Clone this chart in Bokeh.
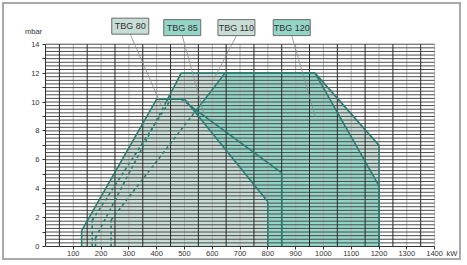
import numpy as np
from bokeh.plotting import figure
from bokeh.models import Range1d, FixedTicker
from bokeh.embed import file_html
from bokeh.resources import INLINE
from bokeh.core.properties import value

# ---------------- data ----------------
models = ["TBG 80", "TBG 85", "TBG 110", "TBG 120"]

tbg80_kw = [130, 130, 400, 500, 800, 800]
tbg80_mbar = [0, 1.1, 10.2, 10.2, 3.1, 0]

tbg85_kw = [168, 168, 452, 488, 850, 850]
tbg85_mbar = [0, 1.8, 10.2, 10.2, 5.1, 0]

tbg110_kw = [180, 180, 434, 488, 970, 1200, 1200]
tbg110_mbar = [0, 0.6, 10.0, 12.0, 12.0, 7.0, 0]

tbg120_kw = [236, 236, 646, 970, 1200, 1200]
tbg120_mbar = [0, 1.83, 12.0, 12.0, 4.2, 0]

label_kw = [305, 492, 687, 886]
label_mbar = [15.25, 15.15, 15.15, 15.15]
pointer_kw = [417, 570, 606, 971]
pointer_mbar = [9.76, 9.18, 11.6, 8.95]

x_ticks = list(range(100, 1500, 100))
y_ticks = list(range(0, 16, 2))
y_minor = list(range(1, 15, 2))

x_unit = "kW"
y_unit = "mbar"

# ---------------- style ----------------
FONT = "Liberation Sans"
LIGHT = "#c9ddd7"
TEAL = "#93d5c7"
EDGE = "#2e7b72"
TXT = "#333333"

W, H = 459, 258
X0, X1 = -147.5, 1504
Y0, Y1 = -1.11, 16.75
PX_PER_MBAR = H / (Y1 - Y0)

p = figure(width=W, height=H, x_range=Range1d(X0, X1), y_range=Range1d(Y0, Y1),
           output_backend="svg", toolbar_location=None,
           min_border_left=0, min_border_right=0, min_border_top=0, min_border_bottom=0)
p.styles = {"margin": "2px 2px 1px 2px", "border": "2px solid #a9a9a9"}
p.xgrid.visible = False
p.ygrid.visible = False
p.outline_line_color = None
p.background_fill_color = "white"
p.border_fill_color = "white"

for ax in (p.xaxis, p.yaxis):
    ax.fixed_location = 0
    ax.axis_line_color = "#333333"
    ax.major_tick_line_color = "#333333"
    ax.minor_tick_line_color = "#333333"
    ax.major_tick_in = 0
    ax.minor_tick_in = 0
    ax.major_label_text_font = FONT
    ax.major_label_text_font_size = "7.5px"
    ax.major_label_text_color = TXT

p.xaxis.ticker = FixedTicker(ticks=x_ticks, minor_ticks=[])
p.xaxis.bounds = (0, 1400)
p.xaxis.major_tick_out = 3
p.xaxis.minor_tick_out = 0
p.xaxis.major_label_standoff = 2

p.yaxis.ticker = FixedTicker(ticks=y_ticks, minor_ticks=y_minor)
p.yaxis.bounds = (0, 14)
p.yaxis.major_tick_out = 3
p.yaxis.minor_tick_out = 3
p.yaxis.major_label_standoff = 3

polys = {
    "TBG 80": (tbg80_kw, tbg80_mbar, LIGHT),
    "TBG 85": (tbg85_kw, tbg85_mbar, TEAL),
    "TBG 110": (tbg110_kw, tbg110_mbar, LIGHT),
    "TBG 120": (tbg120_kw, tbg120_mbar, TEAL),
}

# fills: back to front
for name in ["TBG 110", "TBG 85", "TBG 120", "TBG 80"]:
    xs, ys, col = polys[name]
    p.patch(xs, ys, fill_color=col, line_color=None)

# grid drawn over the fills
dark_x = [t - 50 for t in x_ticks]
light_x = x_ticks
h_y = list(np.arange(0.25, 14.01, 0.25))
p.segment(x0=light_x, y0=[0] * len(light_x), x1=light_x, y1=[14] * len(light_x),
          line_color="#b2b2b2", line_width=1)
p.segment(x0=[0] * len(h_y), y0=h_y, x1=[1400] * len(h_y), y1=h_y,
          line_color="#4a4a4a", line_width=1)
p.segment(x0=dark_x, y0=[0] * len(dark_x), x1=dark_x, y1=[14] * len(dark_x),
          line_color="#2a2a2a", line_width=1)


def inside(px, py, poly_x, poly_y):
    px = np.asarray(px); py = np.asarray(py)
    c = np.zeros(px.shape, dtype=bool)
    n = len(poly_x)
    j = n - 1
    for i in range(n):
        xi, yi, xj, yj = poly_x[i], poly_y[i], poly_x[j], poly_y[j]
        cond = (yi > py) != (yj > py)
        xint = (xj - xi) * (py - yi) / (yj - yi + 1e-12) + xi
        c ^= cond & (px < xint)
        j = i
    return c


solid_xs, solid_ys, dash_xs, dash_ys = [], [], [], []
front_x, front_y = tbg80_kw, tbg80_mbar
for name, (xs, ys, _) in polys.items():
    for k in range(len(xs) - 1):
        t = np.linspace(0, 1, 161)
        ex = xs[k] + (xs[k + 1] - xs[k]) * t
        ey = ys[k] + (ys[k + 1] - ys[k]) * t
        if name == "TBG 80":
            flags = np.zeros(len(t) - 1, dtype=bool)
        else:
            mx = (ex[:-1] + ex[1:]) / 2
            my = (ey[:-1] + ey[1:]) / 2
            flags = inside(mx, my, front_x, front_y)
        start = 0
        for m in range(1, len(flags) + 1):
            if m == len(flags) or flags[m] != flags[start]:
                seg_x = [ex[start], ex[m]]
                seg_y = [ey[start], ey[m]]
                if flags[start]:
                    dash_xs.append(seg_x); dash_ys.append(seg_y)
                else:
                    solid_xs.append(seg_x); solid_ys.append(seg_y)
                start = m

p.multi_line(xs=solid_xs, ys=solid_ys, line_color=EDGE, line_width=1.6)
p.multi_line(xs=dash_xs, ys=dash_ys, line_color=EDGE, line_width=1.6, line_dash="3 3")

# pointer lines and label boxes
box_half = 8 / PX_PER_MBAR
p.segment(x0=label_kw, y0=[v - box_half for v in label_mbar], x1=pointer_kw, y1=pointer_mbar,
          line_color="#8a8a8a", line_width=0.8)
p.rect(x=label_kw, y=label_mbar, width=37, height=16, width_units="screen", height_units="screen",
       fill_color=[LIGHT, TEAL, LIGHT, TEAL], line_color="#6a6a6a", line_width=1)
p.text(x=label_kw, y=label_mbar, text=models, text_align="center", text_baseline="middle",
       text_font=value(FONT), text_font_size="9px", text_color=TXT)

# unit labels
p.text(x=[-43, 1462], y=[14.9, -0.52], text=[y_unit, x_unit], text_align="center",
       text_baseline="middle", text_font=value(FONT), text_font_size="7.5px", text_color=TXT)

open("out.html", "w").write(file_html(p, INLINE))
